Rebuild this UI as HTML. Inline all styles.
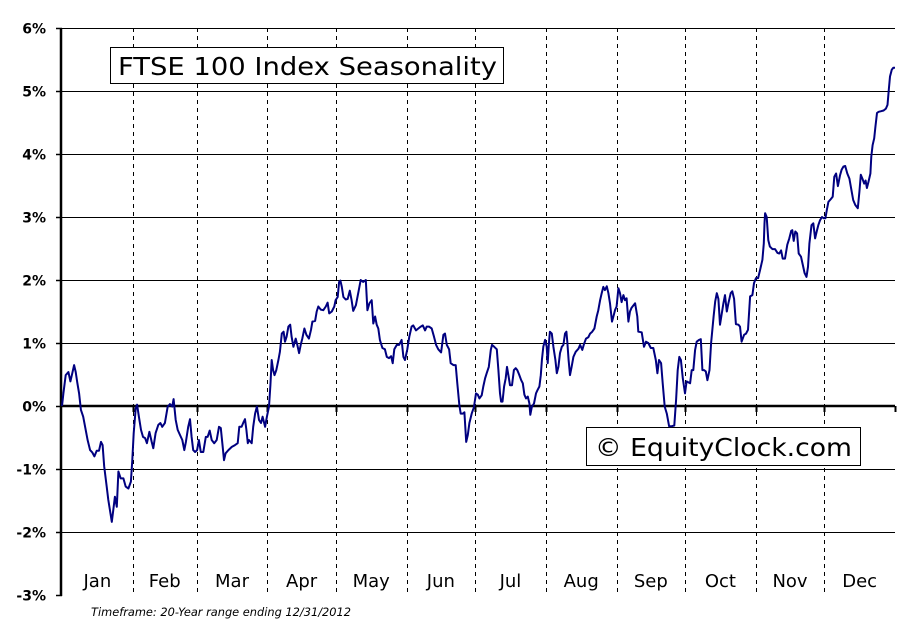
<!DOCTYPE html>
<html><head><meta charset="utf-8">
<style>
html,body{margin:0;padding:0;background:#fff;}
svg{display:block;font-family:"DejaVu Sans","Liberation Sans",sans-serif;}
</style></head>
<body>
<svg id="chart" width="911" height="623" viewBox="0 0 911 623" xmlns="http://www.w3.org/2000/svg">
<g id="grid"></g>
<g id="months"></g>
<g id="yaxis"></g>
<g id="xaxis"></g>
<path id="line" fill="none" stroke="#000080" stroke-width="2" stroke-linejoin="round"/>
<g>
<rect x="110.5" y="47.5" width="393" height="36" fill="#fff" stroke="#000" stroke-width="1"/>
<text x="118" y="75" font-size="25" textLength="379" lengthAdjust="spacingAndGlyphs" fill="#000">FTSE 100 Index Seasonality</text>
</g>
<g>
<rect x="586.5" y="427.5" width="274" height="38" fill="#fff" stroke="#000" stroke-width="1"/>
<text x="595" y="456" font-size="25" textLength="257" lengthAdjust="spacingAndGlyphs" fill="#000">© EquityClock.com</text>
</g>
<text x="91" y="616" font-size="11.5" font-style="italic" textLength="260" lengthAdjust="spacingAndGlyphs" fill="#000">Timeframe: 20-Year range ending 12/31/2012</text>
</svg>
<script>
const monthLabels=["Jan","Feb","Mar","Apr","May","Jun","Jul","Aug","Sep","Oct","Nov","Dec"];
const monthStarts=[0,31,59,90,120,151,181,212,243,273,304,334,365];
const yTicks=[6,5,4,3,2,1,0,-1,-2,-3];
const yTickLabels=["6%","5%","4%","3%","2%","1%","0%","-1%","-2%","-3%"];
const days=[0,0.6,1.6,2.8,3.7,4.5,5.3,6.0,6.7,7.5,8.3,9.3,10.4,11.2,12.3,13.3,14.2,15.2,16.2,17.1,17.8,18.5,19.6,20.3,21.0,21.8,22.5,23.2,24.0,24.7,25.7,26.9,27.9,29.1,30.2,30.8,31.4,32.3,32.9,33.7,34.6,35.5,36.4,37.2,38.3,39.3,40.0,41.0,42.2,43.1,43.9,45.1,46.3,47.3,48.3,48.9,49.8,50.7,51.7,52.7,53.6,54.3,55.3,56.1,56.8,57.5,58.3,59.2,60.0,60.8,61.9,63.0,63.8,64.7,65.6,66.7,67.8,68.8,69.6,70.4,71.0,71.7,72.9,74.4,75.8,77.0,77.7,78.7,79.6,80.2,80.8,81.4,81.9,83.1,83.8,84.6,85.4,86.3,87.2,87.9,89.0,89.8,90.7,91.3,91.9,92.5,93.1,93.9,94.8,95.5,96.3,97.1,97.7,98.4,99.2,100.0,100.6,101.4,102.4,103.1,103.9,104.6,105.3,106.2,107.1,108.2,109.1,109.7,110.9,111.6,112.3,113.4,114.5,115.6,116.4,117.1,118.2,119.3,119.9,120.8,121.4,122.0,122.6,123.3,124.3,125.2,126.1,126.9,127.6,
128.8,129.8,130.9,132.0,133.1,133.8,134.7,135.7,136.4,137.2,137.9,138.6,139.3,140.4,141.5,142.3,143.3,144.2,144.9,145.6,146.7,147.7,148.8,149.6,150.3,151.3,152.2,153.2,153.9,155.1,156.1,157.2,158.1,159.1,159.8,160.8,162.0,163.0,163.9,164.9,166.1,167.1,167.8,168.6,169.6,170.3,171.5,172.5,173.2,174.1,174.7,175.6,176.3,177.1,177.8,178.5,179.5,180.5,181.4,182.2,182.9,183.9,184.6,185.4,186.1,187.0,187.9,188.4,189.4,190.5,191.2,191.9,192.4,193.0,193.7,194.4,195.0,195.7,196.3,197.2,198.0,198.8,199.5,200.3,201.2,201.9,202.6,203.3,204.1,204.8,205.2,205.9,206.8,207.7,208.3,209.2,209.8,210.3,210.9,211.7,212.4,212.8,213.3,213.8,214.6,215.3,216.2,216.8,217.5,218.2,219.0,219.7,220.4,221.0,221.4,222.0,222.6,223.3,224.1,225.1,226.3,227.0,228.0,228.7,229.6,230.6,231.4,232.3,233.3,234.3,235.0,235.8,236.5,237.2,237.9,238.7,239.4,240.1,241.0,241.6,242.3,243.0,243.8,244.5,245.2,246.0,246.7,247.4,248.2,248.9,
249.6,251.1,252.1,252.5,254.0,255.0,255.9,256.9,258.0,259.1,260.2,260.9,261.6,262.5,263.2,264.1,265.0,266.0,267.2,268.3,269.1,269.8,270.5,271.2,272.0,273.0,273.7,275.2,275.9,276.6,277.4,278.1,279.1,279.9,280.6,281.3,282.1,282.8,283.7,284.4,285.5,286.2,286.9,287.6,288.3,289.1,289.8,290.5,291.3,292.0,293.0,293.7,294.5,295.3,296.4,297.1,297.8,298.9,299.7,300.6,301.5,302.5,303.2,304.1,305.0,305.9,306.9,307.5,307.8,308.1,308.8,309.5,310.2,311.3,312.4,313.5,314.3,315.1,315.8,316.8,317.8,318.7,319.5,320.0,320.6,321.3,322.1,322.8,323.8,324.6,325.4,326.2,326.9,327.5,328.4,329.2,330.0,330.7,331.4,332.2,333.0,333.8,334.5,335.1,335.8,336.8,337.7,338.4,339.2,340.0,340.9,341.6,342.4,343.2,344.1,345.0,345.9,346.7,347.6,348.7,349.4,350.0,350.7,351.5,352.1,352.7,353.4,354.2,354.6,355.2,355.9,356.4,357.1,357.8,358.9,360.0,361.0,361.7,362.3,362.8,363.6,364.3,365];
const values=[0,0.2,0.49,0.54,0.39,0.52,0.65,0.54,0.37,0.2,-0.06,-0.17,-0.38,-0.54,-0.70,-0.74,-0.80,-0.71,-0.71,-0.57,-0.62,-0.96,-1.28,-1.49,-1.65,-1.84,-1.65,-1.44,-1.6,-1.04,-1.15,-1.15,-1.28,-1.31,-1.2,-0.86,-0.43,-0.04,0.02,-0.17,-0.38,-0.49,-0.51,-0.59,-0.41,-0.57,-0.67,-0.43,-0.30,-0.27,-0.33,-0.27,-0.01,0.03,-0.01,0.11,-0.22,-0.38,-0.46,-0.54,-0.70,-0.57,-0.33,-0.21,-0.49,-0.70,-0.73,-0.70,-0.54,-0.73,-0.73,-0.49,-0.49,-0.39,-0.54,-0.59,-0.54,-0.33,-0.35,-0.65,-0.86,-0.75,-0.70,-0.65,-0.62,-0.59,-0.33,-0.33,-0.25,-0.21,-0.38,-0.59,-0.54,-0.59,-0.33,-0.12,-0.01,-0.22,-0.27,-0.17,-0.33,-0.17,-0.01,0.33,0.73,0.57,0.49,0.57,0.73,0.86,1.15,1.18,1.02,1.10,1.26,1.29,1.10,0.94,1.07,0.97,0.84,0.97,1.07,1.23,1.13,1.07,1.21,1.34,1.35,1.50,1.58,1.53,1.52,1.58,1.64,1.47,1.50,1.58,1.68,1.73,1.97,1.99,1.89,1.73,1.69,1.7,1.83,1.68,1.51,
1.60,1.79,2.0,1.97,2.0,1.52,1.63,1.68,1.31,1.42,1.29,1.23,1.05,0.92,0.90,0.78,0.76,0.79,0.68,0.90,0.97,0.97,1.05,0.78,0.73,0.90,1.10,1.26,1.28,1.20,1.23,1.26,1.28,1.20,1.26,1.26,1.23,1.10,0.97,0.90,0.85,1.13,1.15,0.97,0.90,0.68,0.65,0.65,0.36,0.02,-0.12,-0.12,-0.1,-0.57,-0.46,-0.27,-0.12,-0.02,0.2,0.18,0.12,0.17,0.31,0.44,0.52,0.62,0.89,0.97,0.94,0.90,0.57,0.2,0.07,0.07,0.31,0.44,0.62,0.47,0.33,0.33,0.57,0.60,0.57,0.50,0.41,0.36,0.18,0.12,0.15,0.04,-0.14,-0.01,0.04,0.2,0.25,0.31,0.49,0.73,0.94,1.05,0.94,0.68,0.97,1.18,1.15,0.94,0.73,0.52,0.62,0.84,0.94,0.97,1.15,1.18,1.02,0.73,0.49,0.62,0.78,0.86,0.91,0.97,0.89,0.98,1.07,1.09,1.15,1.18,1.23,1.42,1.52,1.68,1.79,1.89,1.84,1.90,1.79,1.63,1.34,1.42,1.52,1.58,1.87,1.79,1.65,1.76,1.68,1.71,1.34,1.5,
1.56,1.63,1.42,1.18,1.17,0.94,1.02,1.0,0.92,0.92,0.73,0.52,0.73,0.68,0.36,-0.01,-0.12,-0.32,-0.32,-0.31,0.1,0.57,0.78,0.73,0.44,0.2,0.39,0.36,0.57,0.57,0.89,1.02,1.05,1.06,0.57,0.57,0.55,0.41,0.57,1.0,1.42,1.66,1.79,1.7,1.29,1.47,1.63,1.76,1.50,1.63,1.79,1.82,1.70,1.30,1.29,1.26,1.02,1.13,1.15,1.21,1.74,1.76,1.95,2.03,2.03,2.16,2.32,2.58,2.90,3.06,3.0,2.63,2.53,2.49,2.49,2.43,2.42,2.47,2.34,2.34,2.56,2.66,2.78,2.79,2.62,2.77,2.74,2.42,2.37,2.24,2.11,2.05,2.21,2.58,2.87,2.90,2.66,2.77,2.87,2.95,3.0,2.98,2.98,3.11,3.24,3.28,3.32,3.64,3.69,3.49,3.66,3.75,3.80,3.81,3.69,3.61,3.43,3.27,3.19,3.14,3.40,3.67,3.61,3.53,3.58,3.46,3.56,3.69,3.96,4.14,4.25,4.43,4.65,4.67,4.68,4.69,4.72,4.78,5.02,5.23,5.34,5.37,5.37];

const X0=62,X1=895,Y0=406,PX=63;
const xs=d=>X0+d/365*(X1-X0);
const ys=v=>Y0-v*PX;
const NS="http://www.w3.org/2000/svg";
function mk(tag,parent,attrs){const e=document.createElementNS(NS,tag);for(const k in attrs)e.setAttribute(k,attrs[k]);parent.appendChild(e);return e;}
const grid=document.getElementById('grid'),months=document.getElementById('months'),yaxis=document.getElementById('yaxis'),xaxis=document.getElementById('xaxis');
yTicks.forEach((t,i)=>{
  const y=Math.round(ys(t))+0.5;
  if(t!==0&&t!==-3){
    const g=mk('line',grid,{x1:X0,x2:X1,y1:y,y2:y,stroke:'#000','stroke-width':1});
    
    
  }
  const tk=mk('line',yaxis,{x1:56,x2:X0,y1:y,y2:y,stroke:'#000','stroke-width':1.5});
  
  
  const tx=mk('text',yaxis,{x:46,y:y+5,'font-size':14,'font-weight':'bold','text-anchor':'end',fill:'#000'});
  tx.textContent=yTickLabels[i];
  
  
});
monthStarts.forEach((d,i)=>{
  const x=Math.round(xs(d))+0.5;
  if(i>0&&i<12){
    const l=mk('line',months,{x1:x,x2:x,y1:28,y2:595,stroke:'#000','stroke-width':1,'stroke-dasharray':'4,4'});
    
    
  }
  if(i>0){
    const t=mk('line',xaxis,{x1:x,x2:x,y1:Y0,y2:Y0+6,stroke:'#000','stroke-width':2});
    
    
  }
  if(i<12){
    const lb=mk('text',xaxis,{x:xs((d+monthStarts[i+1])/2),y:587,'font-size':18,'text-anchor':'middle',fill:'#000'});
    lb.textContent=monthLabels[i];
    
    
  }
});
const za=mk('line',xaxis,{x1:X0,x2:X1,y1:Y0,y2:Y0,stroke:'#000','stroke-width':2.5});


const ya=mk('line',yaxis,{x1:61,x2:61,y1:Math.round(ys(6)),y2:Math.round(ys(-3))+1,stroke:'#000','stroke-width':2.5});


let dstr='';
days.forEach((d,i)=>{dstr+=(i?'L':'M')+xs(d).toFixed(1)+','+ys(values[i]).toFixed(1);});
document.getElementById('line').setAttribute('d',dstr);
const svg=document.getElementById('chart');
svg.appendChild(document.getElementById('line'));
</script>
</body></html>
